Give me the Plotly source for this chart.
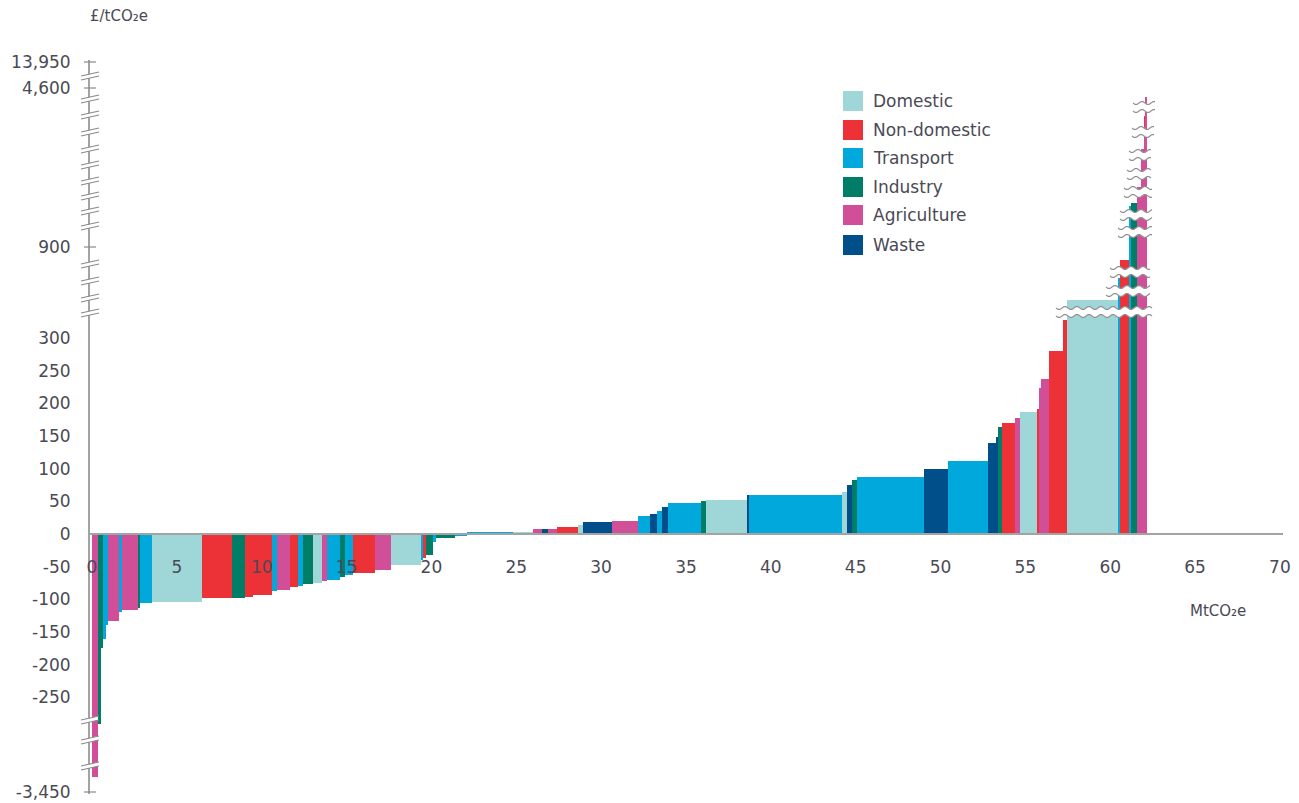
import numpy as np
import plotly.graph_objects as go

# ---------------- data ----------------
sectors = ["Domestic", "Non-domestic", "Transport", "Industry", "Agriculture", "Waste"]
sector_colors = ["#9fd6d8", "#ec3237", "#00a8dc", "#007d67", "#d14f98", "#004f8a"]
code_map = {"D": "Domestic", "N": "Non-domestic", "T": "Transport",
            "I": "Industry", "A": "Agriculture", "W": "Waste"}

# abatement measures in merit order
bar_sector = ["A", "I", "I", "T", "T", "A", "T", "A", "I", "T",
              "D", "N", "I", "N", "N", "T", "A", "N", "T", "I",
              "D", "A", "T", "I", "T", "N", "A", "D", "T", "N",
              "I", "T", "I", "T",
              "T", "D", "A", "W", "A", "N", "D", "W", "A", "T",
              "W", "T", "W", "T", "I", "D", "W", "T", "D", "W",
              "I", "T", "W", "T", "W", "W", "I", "N", "A", "D",
              "N", "A", "A", "N", "N", "D", "T", "N", "T", "I",
              "A", "A", "A", "N", "A"]
bar_abatement = [0.37, 0.16, 0.12, 0.15, 0.17, 0.64, 0.14, 0.98, 0.10, 0.69,
                 2.94, 1.77, 0.77, 0.50, 1.10, 0.30, 0.77, 0.49, 0.29, 0.59,
                 0.49, 0.30, 0.78, 0.29, 0.50, 1.28, 0.92, 1.77, 0.12, 0.19,
                 0.39, 0.23, 1.10, 0.70,
                 2.70, 1.20, 0.50, 0.40, 0.50, 1.26, 0.29, 1.71, 1.54, 0.70,
                 0.40, 0.30, 0.36, 1.94, 0.30, 2.40, 0.10, 5.48, 0.29, 0.30,
                 0.29, 3.97, 1.43, 2.36, 0.45, 0.13, 0.20, 0.80, 0.30, 0.97,
                 0.19, 0.09, 0.45, 0.84, 0.20, 3.06, 0.10, 0.52, 0.08, 0.36,
                 0.24, 0.20, 0.05, 0.03, 0.07]
bar_cost = [-2900, -1000, -175, -160, -140, -133, -120, -116, -114, -106,
            -104, -98, -98, -97, -94, -88, -85, -81, -79, -77,
            -75, -72, -70, -66, -63, -60, -55, -47, -40, -36,
            -32, -12, -6, -3,
            3, 3, 7, 7, 8, 11, 14, 19, 19.5, 27,
            31, 35, 42, 48, 51, 52, 60, 60, 65, 75,
            83, 88, 100, 112, 140, 148, 164, 170, 177, 186,
            192, 223, 238, 280, 327, 480, 650, 800, 1850, 1920,
            2300, 3200, 3700, 3950, 4400]

x_ticks = list(range(0, 75, 5))
y_tick_values = [-3450, -250, -200, -150, -100, -50, 0, 50, 100, 150, 200, 250, 300, 900, 4600, 13950]

# broken-axis scale: real value -> display coordinate
break_values = [-3450, -260, 330, 900, 4600, 13950]
break_display = [-394.5, -260, 330, 439, 682, 722]


def to_display(v):
    return np.interp(v, break_values, break_display)


# ---------------- layout geometry ----------------
W, H = 1299, 803
L, R, T, B = 90, 16, 60, 9
PW, PH = W - L - R, H - T - B
PX_PER_X = 16.97
PX_PER_Y = 0.6533
X0 = -(92 - L) / PX_PER_X
X1 = X0 + PW / PX_PER_X
Y1 = (534 - T) / PX_PER_Y
Y0 = -(H - B - 534) / PX_PER_Y


def px(xp):
    return (xp - L) / PW


def py(yp):
    return (H - B - yp) / PH


FONT = "DejaVu Sans"
TXT = "#4a4a55"
AXC = "#a3a3a3"

# ---------------- traces ----------------
lefts = np.concatenate([[0], np.cumsum(bar_abatement)[:-1]])
fig = go.Figure()
for s, c in zip(sectors, sector_colors):
    idx = [i for i, k in enumerate(bar_sector) if code_map[k] == s]
    fig.add_trace(go.Bar(
        x=[lefts[i] for i in idx],
        y=[to_display(bar_cost[i]) for i in idx],
        width=[bar_abatement[i] for i in idx],
        offset=0,
        marker=dict(color=c, line=dict(width=0)),
        name=s, showlegend=False,
        customdata=[bar_cost[i] for i in idx],
        hovertemplate=s + "<br>%{customdata} £/tCO2e<extra></extra>",
    ))

shapes = []
annotations = []

# legend (manual, large swatches)
leg_y = [101, 130, 158, 187, 215, 245]
for s, c, yy in zip(sectors, sector_colors, leg_y):
    shapes.append(dict(type="rect", xref="paper", yref="paper",
                       x0=px(843), x1=px(863), y0=py(yy + 10), y1=py(yy - 10),
                       fillcolor=c, line=dict(width=0)))
    annotations.append(dict(xref="paper", yref="paper", x=px(871), y=py(yy),
                            text=s, showarrow=False, xanchor="left", yanchor="middle",
                            font=dict(family=FONT, size=17, color=TXT)))

# axis titles
annotations.append(dict(xref="paper", yref="paper", x=px(88), y=py(16),
                        text="£/tCO₂e", showarrow=False, xanchor="left", yanchor="middle",
                        font=dict(family=FONT, size=15, color=TXT)))
annotations.append(dict(xref="paper", yref="paper", x=px(1188), y=py(611),
                        text="MtCO₂e", showarrow=False, xanchor="left", yanchor="middle",
                        font=dict(family=FONT, size=15, color=TXT)))

# y-axis break marks
axis_x = 90
for yb in [78, 101, 117, 134, 151, 167, 183, 198, 213, 228, 266, 283, 300, 315, 722, 742, 768]:
    shapes.append(dict(type="path", xref="paper", yref="paper", layer="above",
                       path="M {},{} L {},{} L {},{} L {},{} Z".format(
                           px(axis_x - 8), py(yb + 2), px(axis_x + 8), py(yb - 2),
                           px(axis_x + 8), py(yb - 6), px(axis_x - 8), py(yb - 2)),
                       fillcolor="white", line=dict(width=0)))
    for off in (0, -4):
        shapes.append(dict(type="line", xref="paper", yref="paper", layer="above",
                           x0=px(axis_x - 9), y0=py(yb + 2 + off), x1=px(axis_x + 9), y1=py(yb - 2 + off),
                           line=dict(color="#8a8a8a", width=1.2)))
for yt in [62, 88, 247, 792]:
    shapes.append(dict(type="line", xref="paper", yref="paper", layer="above",
                       x0=px(axis_x - 6), y0=py(yt), x1=px(axis_x + 6), y1=py(yt),
                       line=dict(color="#8a8a8a", width=1.2)))


# wavy breaks across the steep bars
def wave_path(yc, xs, xe, dy=0.0):
    pts = []
    xv = np.arange(xs, xe + 0.1, 2.0)
    for i, xx in enumerate(xv):
        yy = yc + dy + 1.6 * np.sin(2 * np.pi * (xx - xs) / 12.0)
        pts.append("{} {:.5f},{:.5f}".format("M" if i == 0 else "L", px(xx), py(yy)))
    return " ".join(pts)


for yc, xs, xe in [(312, 1056, 1153), (291, 1106, 1150), (272, 1110, 1150),
                   (232, 1118, 1153), (215, 1120, 1153), (192, 1124, 1152),
                   (174, 1127, 1152), (155, 1129, 1152), (132, 1132, 1155), (107, 1133, 1155)]:
    shapes.append(dict(type="path", xref="paper", yref="paper", layer="above",
                       path=wave_path(yc, xs, xe), line=dict(color="white", width=7)))
    for dy in (-4, 4):
        shapes.append(dict(type="path", xref="paper", yref="paper", layer="above",
                           path=wave_path(yc, xs, xe, dy), line=dict(color="#909090", width=1.2)))

fig.update_layout(
    width=W, height=H,
    margin=dict(l=L, r=R, t=T, b=B, pad=0, autoexpand=False),
    paper_bgcolor="white", plot_bgcolor="white",
    barmode="overlay", bargap=0,
    showlegend=False,
    shapes=shapes, annotations=annotations,
    xaxis=dict(range=[X0, X1], anchor="free", position=(0 - Y0) / (Y1 - Y0),
               tickvals=x_ticks, ticktext=[str(v) for v in x_ticks],
               ticks="", showline=True, linecolor=AXC, linewidth=2,
               showgrid=False, zeroline=False, ticklabelstandoff=18, automargin=False,
               tickfont=dict(family=FONT, size=17, color=TXT)),
    yaxis=dict(range=[Y0, Y1], tickvals=[float(to_display(v)) for v in y_tick_values],
               ticktext=["{:,}".format(v) for v in y_tick_values],
               ticks="", showline=True, linecolor=AXC, linewidth=2,
               showgrid=False, zeroline=False, ticklabelstandoff=14, automargin=False,
               tickfont=dict(family=FONT, size=17, color=TXT)),
)

fig.write_html("out.html", config={"displayModeBar": False},
               post_script="document.body.style.margin='0px';document.body.style.overflow='hidden';")
